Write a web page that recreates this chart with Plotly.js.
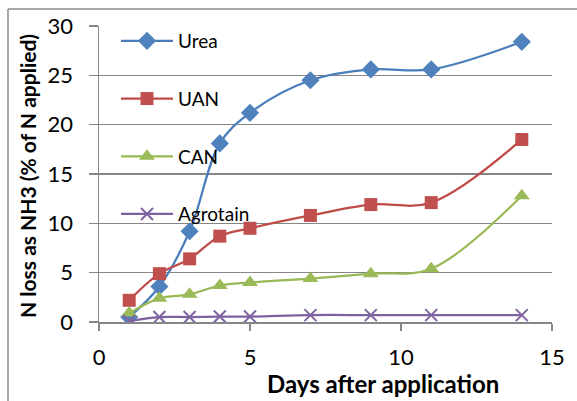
<!DOCTYPE html>
<html>
<head>
<meta charset="utf-8">
<script src="https://cdn.plot.ly/plotly-3.0.1.min.js"></script>
<style>
  html, body { margin: 0; padding: 0; background: #fff; }
  #chart { width: 577px; height: 401px; }
</style>
</head>
<body>
<div id="chart"></div>
<script>
// Data
const days = [1, 2, 3, 4, 5, 7, 9, 11, 14];
const urea = [0.5, 3.6, 9.2, 18.1, 21.2, 24.5, 25.6, 25.6, 28.4];
const uan = [2.2, 4.9, 6.4, 8.7, 9.5, 10.8, 11.9, 12.1, 18.5];
const can = [0.9, 2.4, 2.8, 3.7, 4.0, 4.4, 4.9, 5.4, 12.8];
const agrotain = [0.1, 0.5, 0.5, 0.55, 0.55, 0.7, 0.7, 0.7, 0.7];
const seriesNames = ['Urea', 'UAN', 'CAN', 'Agrotain'];
const xTitle = 'Days after application';
const yTitle = 'N loss as NH3 (% of N applied)';

const FONT = 'Lato, "Open Sans", sans-serif';

function mk(name, y, lineColor, markerColor, symbol, size, group, extra) {
  const t = {
    x: days, y: y, name: name, type: 'scatter', mode: 'lines+markers',
    legendgroup: group,
    line: { color: lineColor, width: 2.25, shape: 'spline', smoothing: 1 },
    marker: { symbol: symbol, size: size, color: markerColor }
  };
  if (extra) Object.assign(t.marker, extra);
  return t;
}

const data = [
  mk(seriesNames[0], urea, '#4A7EBB', '#4F81BD', 'diamond', 14, 'g1'),
  mk(seriesNames[1], uan, '#BE4B48', '#C0504D', 'square', 13, 'g2'),
  mk(seriesNames[2], can, '#98B954', '#9BBB59', 'triangle-up', 14, 'g3'),
  mk(seriesNames[3], agrotain, '#7D60A0', '#8064A2', 'x-thin', 12, 'g4', { line: { color: '#8064A2', width: 2 } })
];

const L = 99, R = 25, T = 26, B = 79;
const W = 577 - L - R, H = 401 - T - B;
const px2x = p => (p - L) / W;
const py2y = p => (401 - B - p) / H;

const layout = {
  width: 577, height: 401,
  margin: { l: L, r: R, t: T, b: B, pad: 0 },
  paper_bgcolor: '#ffffff', plot_bgcolor: '#ffffff',
  font: { family: FONT, color: '#000000' },
  showlegend: true,
  legend: {
    x: px2x(116), xanchor: 'left', y: py2y(22), yanchor: 'top',
    bgcolor: 'rgba(255,255,255,0)', borderwidth: 0,
    font: { family: FONT, size: 19, color: '#000' },
    traceorder: 'grouped', tracegroupgap: 30, itemwidth: 52,
    maxheight: 380
  },
  xaxis: {
    range: [0, 15], dtick: 5, tick0: 0,
    showgrid: false, zeroline: false,
    showline: true, linecolor: '#868686', linewidth: 1.5,
    ticks: 'outside', ticklen: 7, tickwidth: 1.5, tickcolor: '#868686',
    tickfont: { family: FONT, size: 22, color: '#000' },
    ticklabelstandoff: 8, fixedrange: true
  },
  yaxis: {
    range: [0, 30], dtick: 5, tick0: 0,
    showgrid: true, gridcolor: '#868686', gridwidth: 1.5,
    zeroline: false,
    showline: true, linecolor: '#868686', linewidth: 1.5,
    ticks: 'outside', ticklen: 9, tickwidth: 1.5, tickcolor: '#868686',
    tickfont: { family: FONT, size: 22, color: '#000' },
    ticklabelstandoff: 11, fixedrange: true
  },
  annotations: [
    { text: xTitle, xref: 'paper', yref: 'paper', x: px2x(383), y: py2y(383),
      xanchor: 'center', yanchor: 'middle', showarrow: false,
      font: { family: FONT, size: 24, color: '#000', weight: 'bold' } },
    { text: yTitle, xref: 'paper', yref: 'paper', x: px2x(27), y: py2y(176),
      xanchor: 'center', yanchor: 'middle', showarrow: false, textangle: -90,
      font: { family: FONT, size: 21, color: '#000', weight: 'bold' } }
  ],
  shapes: [
    { type: 'line', xref: 'paper', yref: 'paper', x0: px2x(8), x1: px2x(8), y0: py2y(9), y1: py2y(410),
      line: { color: '#8C8C8C', width: 1.5 } },
    { type: 'line', xref: 'paper', yref: 'paper', x0: px2x(8), x1: px2x(590), y0: py2y(9), y1: py2y(9),
      line: { color: '#8C8C8C', width: 1.5 } }
  ]
};

Plotly.newPlot('chart', data, layout, { displayModeBar: false, staticPlot: true });
</script>
</body>
</html>
